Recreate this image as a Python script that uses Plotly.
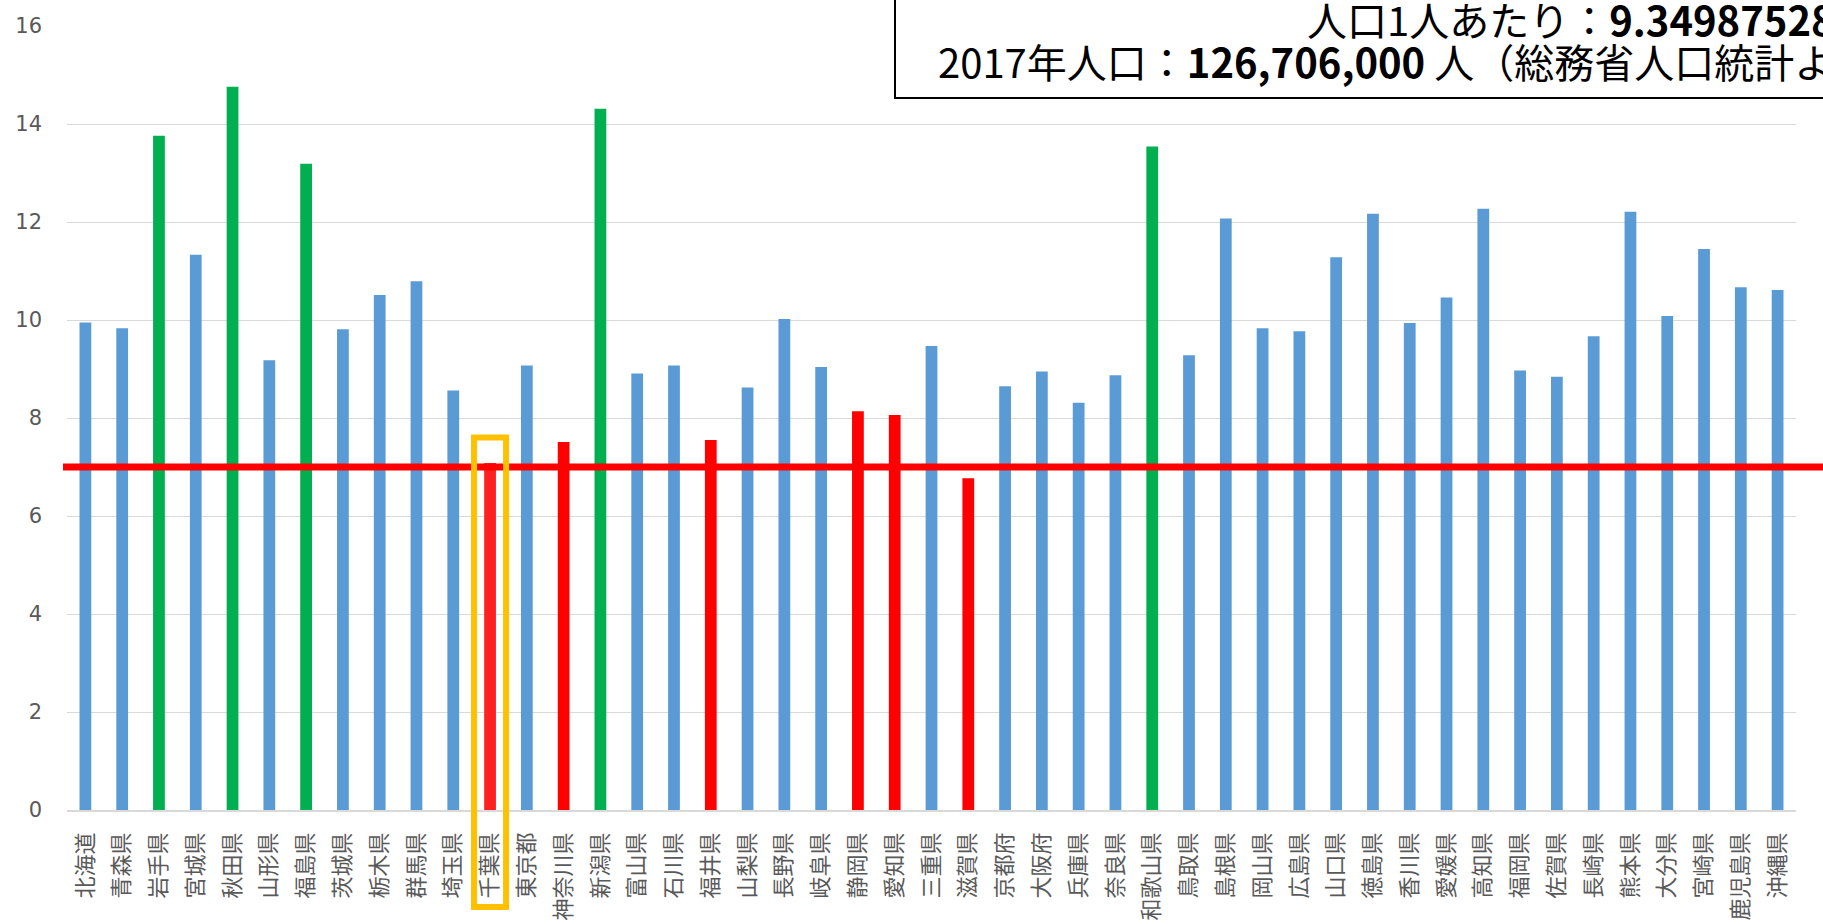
import plotly.graph_objects as go

prefectures = ["北海道", "青森県", "岩手県", "宮城県", "秋田県", "山形県", "福島県", "茨城県", "栃木県", "群馬県",
               "埼玉県", "千葉県", "東京都", "神奈川県", "新潟県", "富山県", "石川県", "福井県", "山梨県", "長野県",
               "岐阜県", "静岡県", "愛知県", "三重県", "滋賀県", "京都府", "大阪府", "兵庫県", "奈良県", "和歌山県",
               "鳥取県", "島根県", "岡山県", "広島県", "山口県", "徳島県", "香川県", "愛媛県", "高知県", "福岡県",
               "佐賀県", "長崎県", "熊本県", "大分県", "宮崎県", "鹿児島県", "沖縄県"]

values = [9.95, 9.83, 13.76, 11.33, 14.76, 9.18, 13.19, 9.81, 10.51, 10.79,
          8.56, 7.08, 9.07, 7.51, 14.31, 8.91, 9.07, 7.55, 8.62, 10.02,
          9.04, 8.14, 8.06, 9.47, 6.77, 8.65, 8.95, 8.31, 8.87, 13.54,
          9.28, 12.07, 9.83, 9.77, 11.28, 12.17, 9.94, 10.46, 12.27, 8.97,
          8.84, 9.67, 12.21, 10.08, 11.45, 10.67, 10.61]

# colour group per prefecture: b = normal, g = high, r = low, h = highlighted low
groups = ["b", "b", "g", "b", "g", "b", "g", "b", "b", "b",
          "b", "h", "b", "r", "g", "b", "b", "r", "b", "b",
          "b", "r", "r", "b", "r", "b", "b", "b", "b", "g",
          "b", "b", "b", "b", "b", "b", "b", "b", "b", "b",
          "b", "b", "b", "b", "b", "b", "b"]

reference_value = 7.0
highlight_index = 11
highlight_top = 7.6

y_ticks = [0, 2, 4, 6, 8, 10, 12, 14, 16]

box_line1 = "人口1人あたり：<b>9.34987528</b>"
box_line2 = "2017年人口：<b>126,706,000</b> 人（総務省人口統計より）"

palette = {"b": "#5B9BD5", "g": "#00B050", "r": "#FF0000", "h": "#FF2020"}
colors = [palette[g] for g in groups]

W, H = 1823, 924
ML, MR, MT, MB = 67, 27, 26, 114
PW, PH = W - ML - MR, H - MT - MB


def px_x(px):
    return (px - ML) / PW


def px_y(py):
    return (H - MB - py) / PH


fig = go.Figure()
fig.add_trace(go.Bar(x=prefectures, y=values, marker=dict(color=colors, line=dict(width=0)),
                     hoverinfo="x+y"))

fig.update_layout(
    width=W, height=H,
    margin=dict(l=ML, r=MR, t=MT, b=MB, pad=0, autoexpand=False),
    paper_bgcolor="white", plot_bgcolor="white",
    bargap=0.68,
    showlegend=False,
    font=dict(family="Noto Sans CJK JP", color="#595959"),
)

fig.update_xaxes(
    type="category",
    automargin=False,
    tickangle=-90,
    tickfont=dict(family="Noto Sans CJK JP", size=22, color="#595959"),
    showgrid=False,
    showline=True, linecolor="#D9D9D9", linewidth=1.5,
    ticks="",
    ticklabelstandoff=12,
)
fig.update_yaxes(
    automargin=False,
    range=[0, 16],
    tickvals=y_ticks,
    ticktext=[str(v) for v in y_ticks],
    tickfont=dict(family="DejaVu Sans", size=21, color="#595959"),
    showgrid=True, gridcolor="#D9D9D9", gridwidth=1.3,
    zeroline=False,
    showline=False,
    ticks="",
    ticklabelstandoff=24,
)

# reference line
fig.add_shape(type="line", xref="paper", yref="y",
              x0=px_x(63), x1=1.1, y0=reference_value, y1=reference_value,
              line=dict(color="#FF0000", width=7), layer="above")

# highlight box around 千葉県
fig.add_shape(type="rect", xref="x", yref="paper",
              x0=highlight_index - 0.435, x1=highlight_index + 0.435,
              y0=px_y(907), y1=highlight_top / 16,
              line=dict(color="#FFC000", width=6), fillcolor="rgba(0,0,0,0)", layer="above")

# info box
fig.add_shape(type="rect", xref="paper", yref="paper",
              x0=px_x(895), x1=1.1, y0=px_y(98), y1=1.2,
              line=dict(color="black", width=2), fillcolor="white", layer="above")

fig.add_annotation(xref="paper", yref="paper", x=px_x(1305), y=px_y(19),
                   xanchor="left", yanchor="middle", showarrow=False,
                   text=box_line1,
                   font=dict(family="Noto Sans CJK JP", size=40, color="black"))
fig.add_annotation(xref="paper", yref="paper", x=px_x(936), y=px_y(61),
                   xanchor="left", yanchor="middle", showarrow=False,
                   text=box_line2,
                   font=dict(family="Noto Sans CJK JP", size=40, color="black"))

fig.write_html("out.html",
               config={"displayModeBar": False},
               post_script="document.body.style.margin='0';document.body.style.overflow='hidden';")
